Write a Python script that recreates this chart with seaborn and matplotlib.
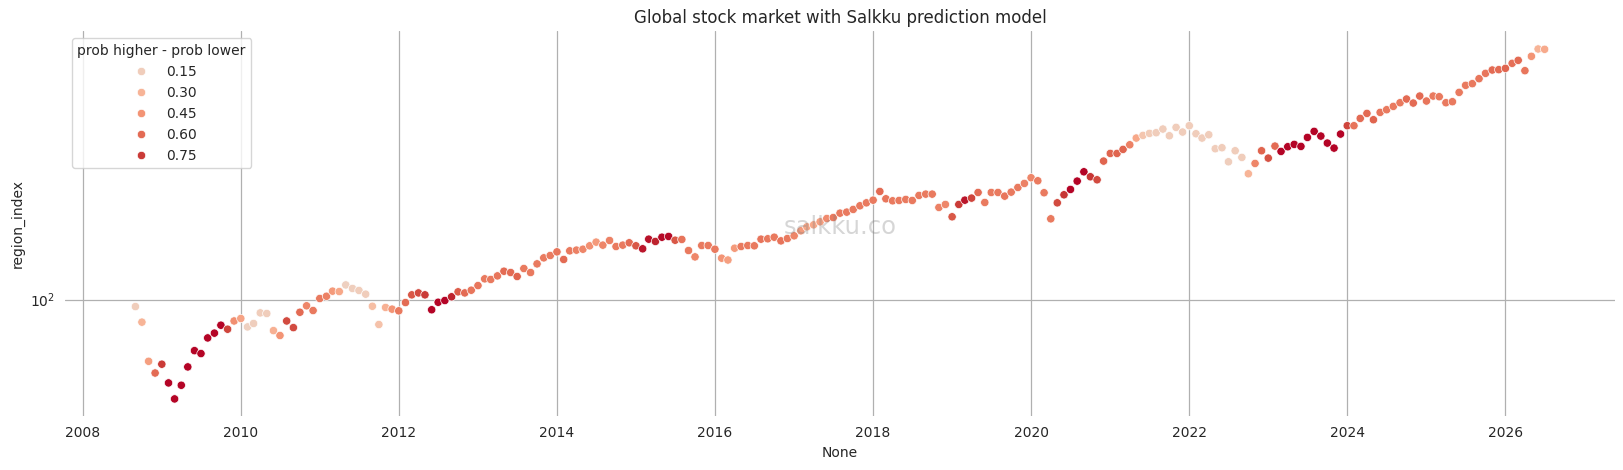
import numpy as np
import pandas as pd
import matplotlib
matplotlib.use("Agg")
import matplotlib.pyplot as plt
import seaborn as sns

# ---- data ----
start_month = "2008-09-01"
end_month = "2026-07-01"

region_index = [
    95.2, 85.4, 65.0, 59.9, 63.7, 55.9, 50.0, 55.0, 62.5, 70.0, 68.6, 76.5, 79.1, 83.6, 81.3, 86.1,  # 2008-09 .. 2009-12
    87.6, 82.6, 84.6, 91.1, 90.7, 80.5, 77.8, 86.1, 82.2, 91.5, 95.7, 92.6,  # 2010
    100.7, 102.3, 106.0, 105.7, 110.7, 108.0, 106.5, 103.8, 95.4, 84.0, 94.6, 93.5,  # 2011
    92.4, 97.9, 103.3, 104.7, 103.3, 93.1, 98.1, 99.3, 101.9, 105.5, 104.7, 106.7,  # 2012
    110.2, 115.5, 115.0, 117.9, 121.8, 120.7, 117.4, 124.1, 120.7, 128.2, 133.7, 135.9,  # 2013
    139.4, 132.2, 140.4, 141.1, 142.0, 145.4, 149.2, 146.1, 150.9, 144.7, 146.1, 148.5,  # 2014
    145.4, 142.4, 152.3, 149.9, 154.4, 155.2, 151.2, 152.0, 140.7, 134.6, 145.7, 145.7,  # 2015
    142.0, 133.4, 131.7, 143.0, 144.7, 145.7, 145.4, 152.3, 152.7, 154.4, 150.5, 153.0,  # 2016
    155.9, 161.4, 166.0, 168.3, 171.9, 175.9, 177.1, 182.6, 183.9, 187.4, 192.2, 196.2,  # 2017
    199.9, 212.4, 201.8, 199.0, 199.5, 200.9, 199.5, 206.6, 208.5, 208.5, 190.0, 194.0,  # 2018
    178.0, 194.0, 199.9, 202.8, 210.9, 196.7, 210.9, 210.9, 205.6, 211.4, 218.4, 224.6,  # 2019
    233.7, 228.8, 210.5, 175.5, 196.2, 207.5, 215.4, 228.3, 243.6, 235.3, 230.4, 262.5,  # 2020
    276.9, 276.9, 284.8, 294.1, 308.2, 314.0, 318.4, 319.9, 328.2, 313.2, 332.0, 321.4,  # 2021
    335.9, 317.6, 308.2, 315.4, 286.1, 288.1, 261.2, 282.1, 269.3, 240.3, 258.2, 282.1,  # 2022
    268.0, 291.4, 280.8, 290.1, 294.9, 290.8, 309.6, 322.9, 312.5, 297.6, 287.4, 316.9,  # 2023
    335.9, 335.9, 353.5, 366.0, 350.2, 368.6, 375.5, 384.4, 394.3, 404.6, 393.4, 413.1,  # 2024
    399.0, 413.1, 411.2, 394.3, 397.1, 423.8, 445.1, 450.3, 466.2, 483.9, 495.3, 496.5,  # 2025
    501.1, 518.9, 529.9, 493.0, 544.9, 573.5, 572.2,  # 2026-01 .. 2026-07
]

prob_diff = [
    0.15, 0.30, 0.40, 0.60, 0.75, 0.85, 0.85, 0.85, 0.85, 0.85, 0.85, 0.85, 0.85, 0.85, 0.72, 0.47,
    0.38, 0.13, 0.14, 0.15, 0.15, 0.32, 0.45, 0.70, 0.70, 0.60, 0.50, 0.55,
    0.55, 0.52, 0.42, 0.36, 0.13, 0.14, 0.15, 0.15, 0.25, 0.22, 0.32, 0.45,
    0.55, 0.60, 0.66, 0.70, 0.75, 0.85, 0.85, 0.85, 0.80, 0.65, 0.60, 0.56,
    0.56, 0.55, 0.55, 0.56, 0.60, 0.60, 0.62, 0.55, 0.55, 0.55, 0.55, 0.55,
    0.56, 0.60, 0.55, 0.52, 0.50, 0.46, 0.42, 0.50, 0.52, 0.55, 0.55, 0.60,
    0.66, 0.82, 0.83, 0.80, 0.84, 0.84, 0.66, 0.57, 0.55, 0.50, 0.55, 0.55,
    0.55, 0.45, 0.40, 0.42, 0.55, 0.55, 0.55, 0.57, 0.55, 0.55, 0.57, 0.55,
    0.50, 0.42, 0.36, 0.36, 0.40, 0.48, 0.55, 0.55, 0.55, 0.55, 0.55, 0.55,
    0.55, 0.60, 0.56, 0.55, 0.55, 0.55, 0.55, 0.55, 0.55, 0.55, 0.52, 0.50,
    0.66, 0.75, 0.82, 0.72, 0.60, 0.55, 0.55, 0.55, 0.56, 0.55, 0.55, 0.52,
    0.50, 0.54, 0.55, 0.55, 0.70, 0.76, 0.85, 0.85, 0.85, 0.76, 0.70, 0.62,
    0.62, 0.62, 0.62, 0.52, 0.36, 0.20, 0.16, 0.15, 0.15, 0.15, 0.15, 0.15,
    0.15, 0.15, 0.15, 0.15, 0.15, 0.15, 0.14, 0.15, 0.15, 0.30, 0.50, 0.62,
    0.68, 0.60, 0.85, 0.85, 0.85, 0.85, 0.85, 0.85, 0.85, 0.85, 0.85, 0.85,
    0.72, 0.57, 0.60, 0.60, 0.62, 0.56, 0.55, 0.55, 0.55, 0.60, 0.60, 0.60,
    0.56, 0.55, 0.55, 0.55, 0.55, 0.55, 0.55, 0.55, 0.56, 0.56, 0.60, 0.60,
    0.62, 0.58, 0.60, 0.56, 0.45, 0.30, 0.35,
]

dates = pd.date_range(start=start_month, end=end_month, freq="MS")
df = pd.DataFrame({"region_index": region_index,
                   "prob higher - prob lower": prob_diff}, index=dates)

# ---- plot ----
sns.set_style("whitegrid", {"grid.color": "#b0b0b0", "axes.edgecolor": "white"})
plt.rcParams["font.family"] = ["DejaVu Sans"]

fig = plt.figure(figsize=(16.24, 4.70), dpi=100)
ax = fig.add_subplot(111)
fig.subplots_adjust(left=0.040, right=0.9945, bottom=0.114, top=0.933)

sns.scatterplot(data=df, x=df.index, y="region_index",
                hue="prob higher - prob lower", palette="coolwarm",
                hue_norm=(-0.85, 0.85), ax=ax)
ax.set_yscale("log")
ax.set_xlabel("None")
ax.set_ylabel("region_index")
ax.set_title("Global stock market with Salkku prediction model", fontsize=12)
sns.despine(ax=ax, left=True, bottom=True)
ax.grid(True, which="major", color="#b0b0b0", linewidth=0.9)
ax.grid(False, which="minor")
ax.legend(title="prob higher - prob lower", loc="upper left")

ax.text(0.5, 0.493, "salkku.co", transform=ax.transAxes, ha="center", va="center",
        fontsize=17.5, color="grey", alpha=0.32, zorder=5)

fig.savefig("out.png", dpi=100)
